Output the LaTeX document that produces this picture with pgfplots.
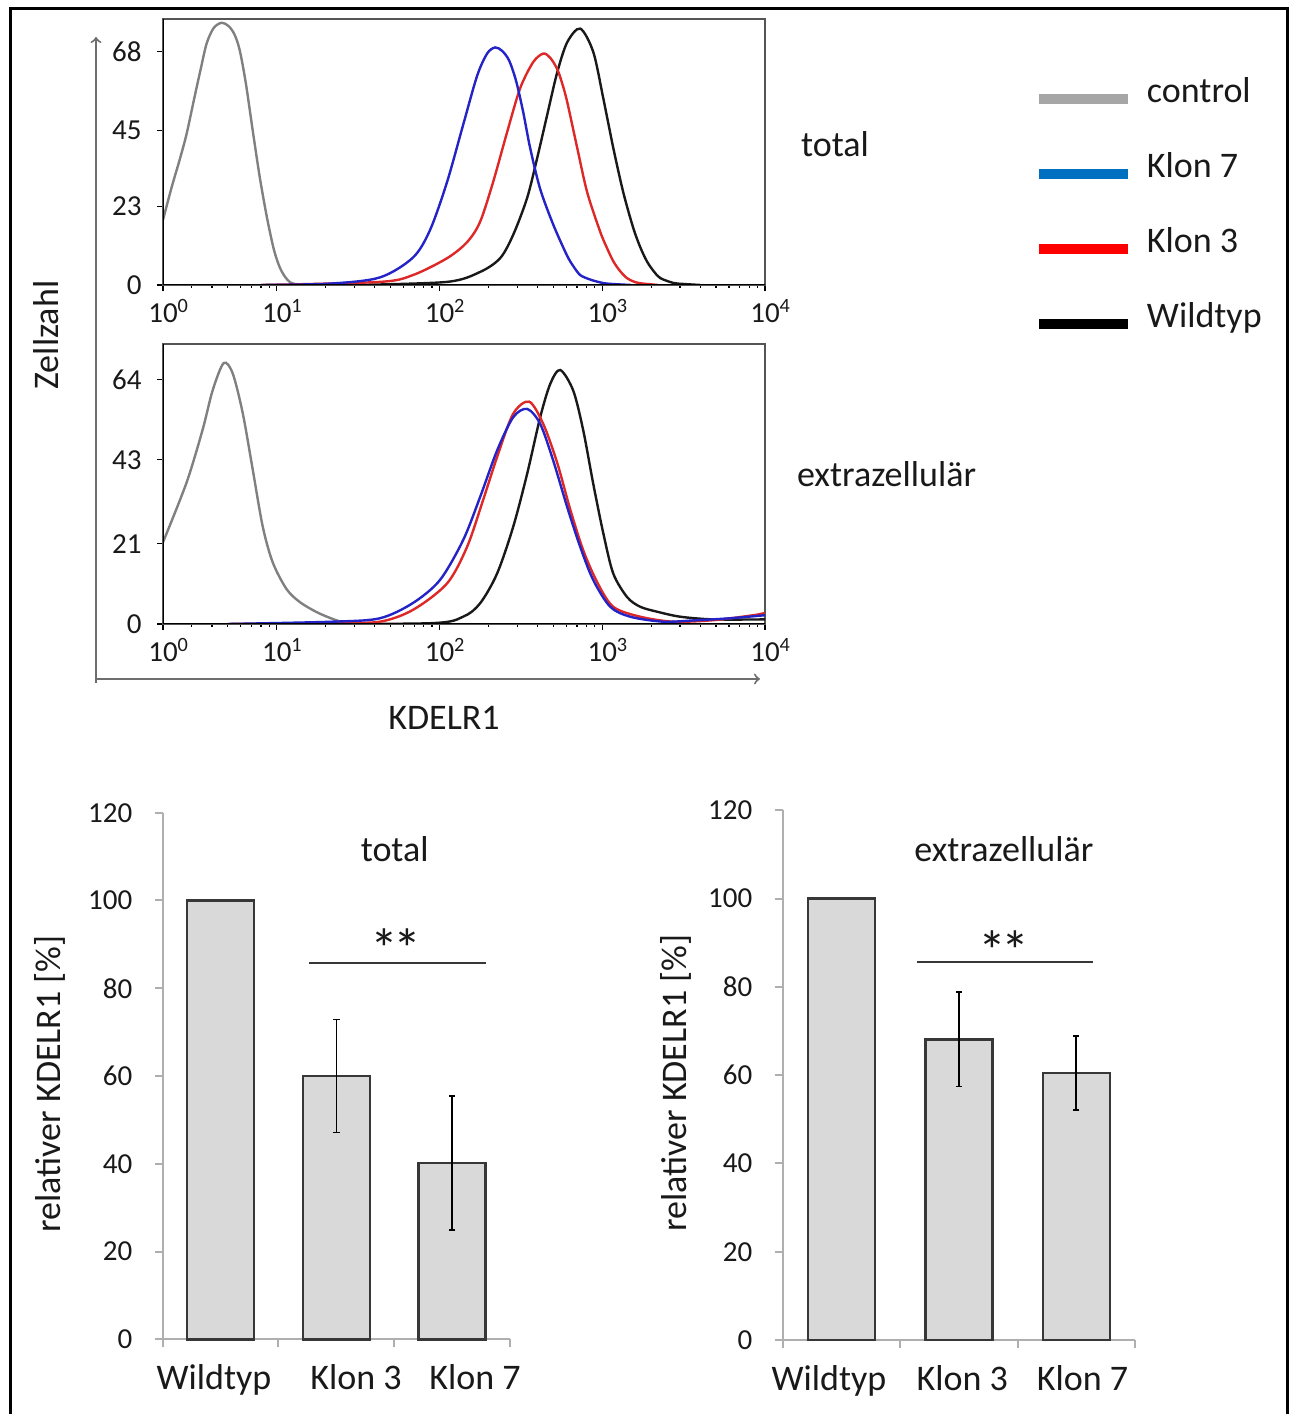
\documentclass[border=0pt]{standalone}
\usepackage{pgfplots}
\pgfplotsset{compat=1.18}
\usepackage{fontspec}
\setmainfont{Carlito}

\definecolor{crvGray}{RGB}{128,128,128}
\definecolor{crvBlue}{RGB}{35,35,200}
\definecolor{crvRed}{RGB}{222,40,40}
\definecolor{crvBlack}{RGB}{25,25,25}
\definecolor{legGray}{RGB}{166,166,166}
\definecolor{legBlue}{RGB}{0,112,192}
\definecolor{legRed}{RGB}{255,0,0}
\definecolor{boxGray}{RGB}{85,85,85}
\definecolor{arrGray}{RGB}{110,110,110}
\definecolor{axGray}{RGB}{175,175,175}
\definecolor{barFill}{RGB}{217,217,217}
\definecolor{barEdge}{RGB}{55,55,55}
\definecolor{txt}{RGB}{25,25,25}

\newcommand\lblfont{\fontsize{18}{21.6}\selectfont}
\newcommand\tickfont{\fontsize{14.5}{17}\selectfont}
\newcommand\stars{{\fontsize{28}{30}\selectfont *\kern-2.5pt*}}

\pgfplotsset{
  myhisto/.style={
    scale only axis, width=301pt,
    xmin=2, xmax=10000, ymin=0,
    xtick={2,10,100,1000,10000},
    xticklabels={10\rlap{\textsuperscript{0}},10\rlap{\textsuperscript{1}},10\rlap{\textsuperscript{2}},10\rlap{\textsuperscript{3}},10\rlap{\textsuperscript{4}}},
    minor xtick={3,4,5,6,7,8,9,20,30,40,50,60,70,80,90,200,300,400,500,600,700,800,900,2000,3000,4000,5000,6000,7000,8000,9000},
    xtick pos=left, ytick pos=left, tick align=outside,
    major tick length=3pt, minor tick length=1.5pt,
    tick style={draw=black, line width=0.6pt},
    axis line style={draw=boxGray, line width=1pt},
    ticklabel style={font=\tickfont, text=txt},
    xticklabel style={anchor=base, yshift=-16pt},
    yticklabel style={inner sep=0pt, xshift=-7.5pt},
  },
  mycurve/.style={line width=1.2pt, smooth, tension=0.5},
  mybars/.style={
    scale only axis,
    xmin=-0.5, xmax=2.5, ymin=0, ymax=120, ytick={0,20,...,120},
    axis x line*=bottom, axis y line*=left,
    axis line style={draw=axGray, line width=1pt},
    xticklabels={Wildtyp,Klon 3,Klon 7},
    minor xtick={-0.5,0.5,1.5,2.5},
    tick align=outside, major tick length=4pt, minor tick length=4pt,
    xticklabel style={font=\lblfont, text=txt, anchor=base, yshift=-21pt},
    yticklabel style={font=\tickfont, text=txt, inner sep=0pt, xshift=-11pt},
    ylabel={relativer KDELR1 [\%]},
    ylabel style={font=\lblfont, text=txt, anchor=center},
    clip=false,
  },
  mybar/.style={ybar, bar width=33.5pt, bar shift=0pt, fill=barFill, draw=barEdge, line width=1.2pt},
}

\begin{document}
\begin{tikzpicture}
\path[use as bounding box] (0pt,0pt) rectangle (647.5pt,707pt);
\draw[line width=1.5pt] (5pt,-5pt) rectangle (643.5pt,702.5pt);

% big axes arrows of the histogram block
\draw[arrGray, line width=1pt, ->] (48pt,365.5pt) -- (48pt,688.5pt);
\draw[arrGray, line width=1pt, ->] (48pt,367.5pt) -- (380pt,367.5pt);
\node[rotate=90, font=\lblfont, text=txt] at (23pt,539.5pt) {Zellzahl};
\node[font=\lblfont, text=txt] at (222pt,348pt) {KDELR1};

% total
\begin{axis}[xmode=log, myhisto, anchor=south west, at={(81.5pt,564.5pt)}, height=133pt, ymax=77.6, ytick={0,23,45,68},
  /pgf/number format/assume math mode=true,
  legend cell align=left,
  legend image code/.code={\draw[#1, line width=5pt] (0pt,-2.75pt) -- (44.5pt,-2.75pt);},
  legend style={at={(axis description cs:1.4468,0.7857)}, anchor=north west,
    draw=none, fill=none, inner sep=0pt, outer sep=0pt, row sep=19.5pt, column sep=7pt,
    font=\lblfont, text=txt, nodes={inner sep=0pt, text height=13.5pt, text depth=4.5pt}}]
\addlegendimage{legGray}\addlegendentry{control}
\addlegendimage{legBlue}\addlegendentry{Klon 7}
\addlegendimage{legRed}\addlegendentry{Klon 3}
\addlegendimage{black}\addlegendentry{Wildtyp}
\addplot[mycurve, crvGray, forget plot] coordinates {(2.0,19) (2.26,28.5) (2.53,36.5) (2.79,44) (3.13,55) (3.41,63) (3.71,70.5) (4.10,75) (4.59,76.5) (5.07,75.5) (5.51,73) (5.92,68.5) (6.45,59) (7.12,45) (7.86,31.5) (8.68,20) (9.58,10.5) (10.4,5.3) (11.2,2.5) (12.0,0.9) (12.9,0.3) (16.0,0)};
\addplot[mycurve, crvBlack, forget plot] coordinates {(30,0) (111.2,0.9) (177.5,3.8) (235.6,7.8) (283.4,14.6) (345.5,25.4) (398.1,37) (458.7,49.6) (528.6,62) (609.0,70.8) (731.9,74.8) (880.3,68) (1014.4,54.5) (1168.6,40) (1346.6,27) (1551.5,16.6) (1720,10.8) (1892,6.7) (2080,3.9) (2275,2) (2735,0.6) (3151,0.3) (4000,0)};
\addplot[mycurve, crvRed, forget plot] coordinates {(8,0) (43.0,0.9) (68.7,2.9) (111.2,7.8) (147.7,12.5) (177.5,18.4) (213.4,30) (260.3,44.6) (313.0,57.4) (376.2,65) (433.6,67.5) (478.6,66.3) (528.6,63) (567.4,58.8) (609.0,53.4) (701.7,40) (808.4,27) (971.9,15.5) (1073.6,10.6) (1173,6.8) (1290,4) (1419,2) (1560,1) (1713,0.5) (2200,0)};
\addplot[mycurve, crvBlue, forget plot] coordinates {(8,0) (21.2,0.4) (43.0,2.2) (68.7,8) (87.4,16) (111.2,30) (139.5,46.6) (170.2,61) (196,67.5) (219.5,69.3) (242.5,68.3) (267.7,65.5) (295.6,59.5) (326.6,50.5) (360.5,40) (415.5,28) (501,17.5) (606,8.7) (666,5.4) (732,2.9) (830,1.7) (927,1.0) (1073.6,0.4) (1500,0)};
\draw[black, line width=1.4pt] (rel axis cs:0,1) -- (rel axis cs:0,0) -- (rel axis cs:1,0);
\end{axis}

% extrazellulaer
\begin{axis}[xmode=log, myhisto, anchor=south west, at={(81.5pt,395pt)}, height=140pt, ymax=73.3, ytick={0,21,43,64},
  /pgf/number format/assume math mode=true]
\addplot[mycurve, crvGray] coordinates {(2.0,21.4) (2.79,37) (3.50,50.8) (4.04,61.2) (4.72,68.3) (5.36,65.6) (6.18,55.2) (7.12,40.4) (8.20,25.5) (9.45,16.1) (11.5,9.1) (13.9,5.7) (17.6,3.1) (22.1,1.3) (25.5,0.5) (32,0)};
\addplot[mycurve, crvBlack] coordinates {(10,0) (87.4,0.2) (139.5,1.9) (177.5,5.4) (225.8,13.2) (283.4,25.4) (345.5,39.3) (415.5,54.1) (478.6,62.8) (551.4,66.5) (663.2,61.1) (764.1,50.7) (880.3,36.7) (1014.4,23.8) (1168.6,13.2) (1424.5,7) (1713,4.5) (2180.4,3.2) (3020,1.9) (4821,1.2) (10000,1.2)};
\addplot[mycurve, crvRed] coordinates {(5,0) (22.1,0.3) (43.0,0.6) (68.7,3.7) (111.2,10.6) (147.7,20.2) (185.2,32.4) (225.8,43.7) (283.4,55) (355.4,58.2) (433.6,52.4) (528.6,42.2) (635.6,30) (764.1,19.3) (931.6,10.9) (1168.6,4.5) (1713,1.9) (2735,0.6) (4821,1) (8494,2.3) (10000,2.9)};
\addplot[mycurve, crvBlue] coordinates {(5,0) (22.1,0.6) (43.0,1.5) (68.7,5.5) (100.6,11.5) (139.5,21.9) (177.5,33.2) (225.8,45.4) (283.4,54.1) (345.5,56.3) (415.5,52.4) (499.5,42.8) (609.0,30.6) (731.9,20.2) (880.3,11.5) (1119.9,4.5) (1487.3,1.9) (2374.2,0.6) (3842,1) (6134,1.5) (10000,2.3)};
\draw[black, line width=1.4pt] (rel axis cs:0,1) -- (rel axis cs:0,0) -- (rel axis cs:1,0);
\end{axis}

\node[font=\lblfont, text=txt, anchor=base west] at (397pt,628.5pt) {total};
\node[font=\lblfont, text=txt, anchor=base west] at (395pt,463.5pt) {extrazellulär};

% bar chart total
\begin{axis}[mybars, anchor=south west, at={(81.35pt,37.35pt)}, width=173.65pt, height=263.3pt,
  xtick={-0.057,1.17,2.198},
  /pgf/number format/assume math mode=true,
  every major x tick/.append style={draw=none},
  every minor x tick/.append style={draw=axGray, line width=1pt},
  every major y tick/.append style={draw=axGray, line width=1pt},
  ylabel style={at={(axis description cs:-0.325,0.485)}}]
\addplot[mybar] coordinates {(0,100)};
\addplot[mybar, error bars/.cd, y dir=both, y explicit,
    error bar style={line width=0.8pt, draw=black},
    error mark options={rotate=90, mark size=1.6pt, line width=0.8pt, draw=black}]
  coordinates {(1,60) +- (0,12.9) (2,40.2) +- (0,15.3)};
\addplot[mark=none, line width=1pt, color=barEdge] coordinates {(0.766,85.7) (2.293,85.7)};
\node[text=txt, anchor=base] at (axis cs:1.513,84.4) {\stars};
\node[font=\lblfont, text=txt, anchor=base] at (axis cs:1.504,108.8) {total};
\end{axis}

% bar chart extrazellulaer
\begin{axis}[mybars, anchor=south west, at={(391.35pt,37pt)}, width=176.15pt, height=264.85pt,
  xtick={-0.106,1.029,2.053},
  /pgf/number format/assume math mode=true,
  every major x tick/.append style={draw=none},
  every minor x tick/.append style={draw=axGray, line width=1pt},
  every major y tick/.append style={draw=axGray, line width=1pt},
  ylabel style={at={(axis description cs:-0.303,0.485)}}]
\addplot[mybar] coordinates {(0,100)};
\addplot[mybar, error bars/.cd, y dir=both, y explicit,
    error bar style={line width=0.8pt, draw=black},
    error mark options={rotate=90, mark size=1.6pt, line width=0.8pt, draw=black}]
  coordinates {(1,68.1) +- (0,10.7) (2,60.5) +- (0,8.4)};
\addplot[mark=none, line width=1pt, color=barEdge] coordinates {(0.647,85.6) (2.146,85.6)};
\node[text=txt, anchor=base] at (axis cs:1.383,83.8) {\stars};
\node[font=\lblfont, text=txt, anchor=base] at (axis cs:1.384,108.5) {extrazellulär};
\end{axis}
\end{tikzpicture}
\end{document}
